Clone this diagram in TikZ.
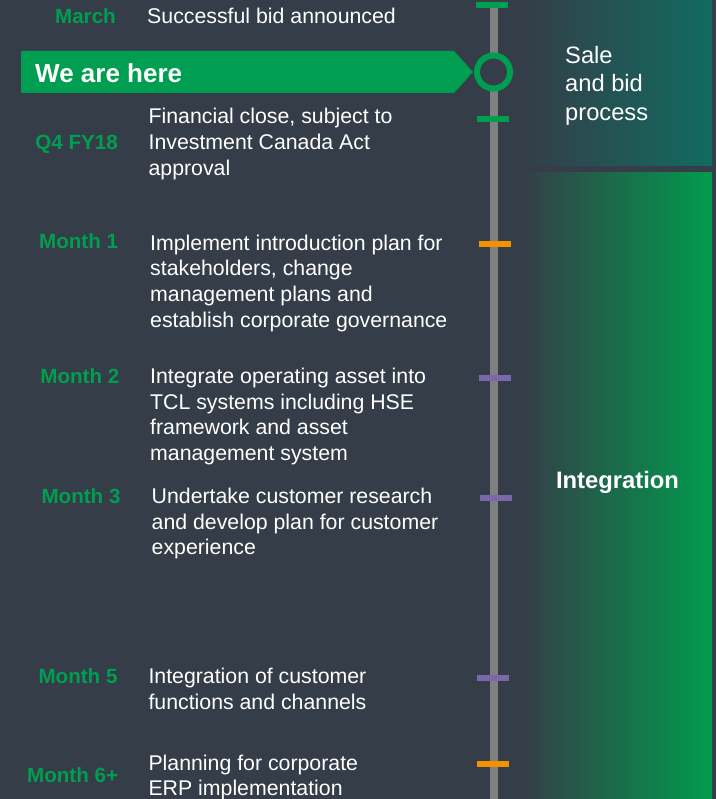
\documentclass[tikz,border=0pt]{standalone}
\usepackage{fontspec}
\setmainfont{Liberation Sans}
\definecolor{bg}{RGB}{53,61,72}
\definecolor{saleteal}{RGB}{17,107,96}
\definecolor{intgreen}{RGB}{0,155,78}
\definecolor{brandgreen}{RGB}{0,158,80}
\definecolor{linegray}{RGB}{128,128,128}
\definecolor{tickorange}{RGB}{243,146,0}
\definecolor{tickpurple}{RGB}{123,104,170}
\tikzset{
  desc/.style={anchor=base west, align=left, inner sep=0pt, text=white,
    font=\fontsize{21.3}{25.7}\selectfont},
  when/.style={anchor=base east, inner sep=0pt, text=brandgreen,
    font=\bfseries\fontsize{20.6}{24.7}\selectfont},
  tickmark/.style={rectangle, inner sep=0pt, minimum width=32pt, minimum height=6pt, draw=none},
}
\begin{document}
\begin{tikzpicture}[x=1pt,y=-1pt]
\useasboundingbox (0,0) rectangle (716,799);
\fill[bg] (0,0) rectangle (716,799);
% phase boxes
\shade[left color=bg, right color=saleteal] (520,0) rectangle (712,165.7);
\shade[left color=bg, right color=intgreen] (520,172.7) rectangle (712,799);
\node[anchor=base west, align=left, inner sep=0pt, text=white,
  font=\fontsize{23.7}{28.4}\selectfont] (sale) at (565,120.1) {Sale\\and bid\\process};
\node[anchor=base, inner sep=0pt, text=white,
  font=\bfseries\fontsize{23.8}{28.4}\selectfont] (integ) at (617.5,488.5) {Integration};
% timeline
\fill[linegray] (490,3) rectangle (498,799);
\node[tickmark, fill=brandgreen] (t0) at (492,5) {};
\node[tickmark, fill=brandgreen] (t1) at (493.3,119) {};
\node[tickmark, fill=tickorange] (t2) at (494.5,243.7) {};
\node[tickmark, fill=tickpurple] (t3) at (494.5,377.7) {};
\node[tickmark, fill=tickpurple] (t4) at (495.5,498) {};
\node[tickmark, fill=tickpurple] (t5) at (493.3,678) {};
\node[tickmark, fill=tickorange] (t6) at (493.3,764) {};
% we are here
\fill[brandgreen] (21,51) -- (454,51) -- (473,72) -- (454,93) -- (21,93) -- cycle;
\node[anchor=base west, inner sep=0pt, text=white,
  font=\bfseries\fontsize{26}{31}\selectfont] (here) at (35,82.7) {We are here};
\node[circle, draw=brandgreen, line width=6pt, fill=bg, minimum size=33pt, inner sep=0pt] (herecircle) at (493.5,72) {};
% entries (multi-line nodes are placed by the baseline of their last line)
\node[when] (w0) at (116,24) {March};
\node[desc] (d0) at (147,24) {Successful bid announced};
\node[when] (w1) at (118,150) {Q4 FY18};
\node[desc] (d1) at (148.4,175.4) {Financial close, subject to\\Investment Canada Act\\approval};
\node[when] (w2) at (118.3,249) {Month 1};
\node[desc] (d2) at (150,327.1) {Implement introduction plan for\\stakeholders, change\\management plans and\\establish corporate governance};
\node[when] (w3) at (119.5,383) {Month 2};
\node[desc] (d3) at (150,460.4) {Integrate operating asset into\\TCL systems including HSE\\framework and asset\\management system};
\node[when] (w4) at (120.7,503) {Month 3};
\node[desc] (d4) at (151.5,554.7) {Undertake customer research\\and develop plan for customer\\experience};
\node[when] (w5) at (117.7,683) {Month 5};
\node[desc] (d5) at (148.3,709) {Integration of customer\\functions and channels};
\node[when] (w6) at (118.3,782.7) {Month 6+};
\node[desc] (d6) at (148.3,795.7) {Planning for corporate\\ERP implementation};
\end{tikzpicture}
\end{document}
